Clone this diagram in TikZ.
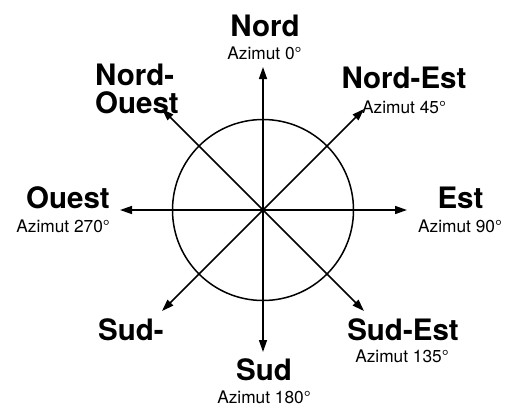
\documentclass[tikz,border=0pt]{standalone}
\usepackage{fontspec}
\setmainfont{TeX Gyre Heros}
\usetikzlibrary{arrows.meta}
\tikzset{
  big/.style={font=\fontsize{29.5}{32}\selectfont\bfseries, inner sep=0pt},
  small/.style={font=\fontsize{17.3}{20}\selectfont, inner sep=0pt},
  dirarrow/.style={line width=1.5pt, -{Triangle[length=12pt,width=8pt]}},
  ring/.style={draw, circle, line width=1.5pt, minimum size=181pt, inner sep=0pt}
}
\begin{document}
\begin{tikzpicture}[x=1pt,y=-1pt]
\useasboundingbox (0,0) rectangle (516,408);
\node[ring] (c) at (263,210) {};
\coordinate (o) at (263,210);
\coordinate (tN) at (263,67);
\coordinate (tS) at (263,352);
\coordinate (tE) at (407,210);
\coordinate (tW) at (120,210);
\coordinate (tNE) at (364,109);
\coordinate (tNW) at (162,109);
\coordinate (tSE) at (364,311);
\coordinate (tSW) at (162,311);
\foreach \t in {tN,tS,tE,tW,tNE,tNW,tSE,tSW} \draw[dirarrow] (o) -- (\t);
% labels
\node[big, anchor=base] (nord) at (265,36) {Nord};
\node[small, anchor=base] (az0) at (264.5,59) {Azimut 0°};
\node[big, anchor=base] (ne) at (404,88) {Nord-Est};
\node[small, anchor=base] (az45) at (404,113) {Azimut 45°};
\node[big, anchor=base west] (nw1) at (95,85) {Nord-};
\node[big, anchor=base west] (nw2) at (95,113) {Ouest};
\node[big, anchor=base east] (ouest) at (110,208) {Ouest};
\node[small, anchor=base east] (az270) at (110,232) {Azimut 270°};
\node[big, anchor=base] (est) at (460.5,208) {Est};
\node[small, anchor=base] (az90) at (460,232.5) {Azimut 90°};
\node[big, anchor=base west] (sw) at (98,340) {Sud-};
\node[big, anchor=base] (se) at (403,340) {Sud-Est};
\node[small, anchor=base] (az135) at (402,362.5) {Azimut 135°};
\node[big, anchor=base] (sud) at (264,380) {Sud};
\node[small, anchor=base] (az180) at (264,403) {Azimut 180°};
\end{tikzpicture}
\end{document}
